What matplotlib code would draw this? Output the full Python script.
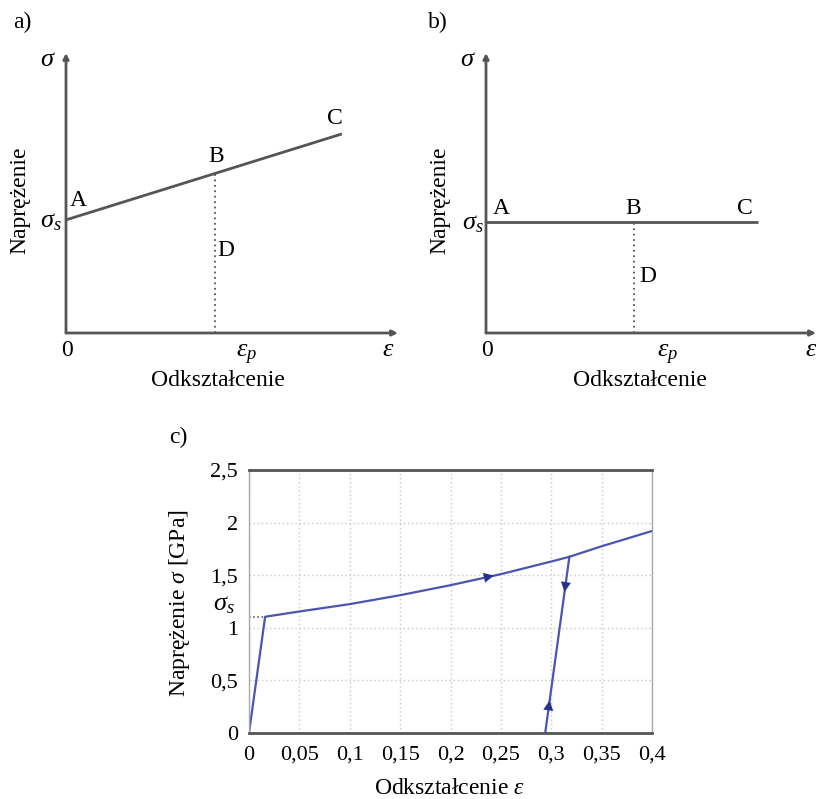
import matplotlib
matplotlib.use('Agg')
import matplotlib.pyplot as plt

plt.rcParams['font.family'] = ['Liberation Serif', 'DejaVu Serif']
plt.rcParams['mathtext.fontset'] = 'custom'
plt.rcParams['mathtext.rm'] = 'Liberation Serif'
plt.rcParams['mathtext.it'] = 'Liberation Serif:italic'

############################################################

# schematic a) - linear hardening (A -> C), B at eps_p
a_line_x = [0.0, 0.831]
a_line_y = [0.404, 0.711]
a_point_B = (0.449, 0.570)

# schematic b) - perfectly plastic (A -> C), B at eps_p
b_line_x = [0.0, 0.824]
b_line_y = [0.396, 0.396]
b_point_B = (0.448, 0.396)

# c) stress-strain curve with unloading / reloading
eps_load = [0, 0.016, 0.05, 0.1, 0.15, 0.2, 0.25, 0.3, 0.318, 0.35, 0.4]
sig_load = [0, 1.105, 1.155, 1.225, 1.31, 1.405, 1.51, 1.63, 1.675, 1.775, 1.92]
eps_unload = [0.318, 0.294]
sig_unload = [1.675, 0.0]
sigma_s = 1.105
eps_s = 0.016
# arrow heads: (x, y, dx, dy) direction
arrows = [(0.24, 1.49, 0.01, 0.021),
          (0.3136, 1.37, -0.0015, -0.1),
          (0.298, 0.28, 0.0015, 0.1)]

x_ticks = [0, 0.05, 0.1, 0.15, 0.2, 0.25, 0.3, 0.35, 0.4]
x_labels = ['0', '0,05', '0,1', '0,15', '0,2', '0,25', '0,3', '0,35', '0,4']
y_ticks = [0, 0.5, 1, 1.5, 2, 2.5]
y_labels = ['0', '0,5', '1', '1,5', '2', '2,5']

############################################################

W, H = 816, 799
fig = plt.figure(figsize=(W / 100, H / 100), dpi=100)
FS = 17
TFS = 16
AX_COL = '#555555'
BLUE = '#4a55b2'
ARROW_COL = '#28318f'


def px_axes(left, top, right, bottom):
    return fig.add_axes([left / W, 1 - bottom / H, (right - left) / W, (bottom - top) / H])


def ftext(x, y, s, size=FS, **kw):
    fig.text(x / W, 1 - y / H, s, fontsize=size, ha='center', va='center', **kw)


def schematic(ax, lx, ly, pB):
    ax.set_xlim(0, 1)
    ax.set_ylim(0, 1)
    ax.axis('off')
    ap = dict(arrowstyle='-|>', color=AX_COL, lw=2, mutation_scale=8, shrinkA=0, shrinkB=0)
    ax.annotate('', xy=(1, 0), xytext=(0, 0), arrowprops=ap)
    ax.annotate('', xy=(0, 1), xytext=(0, 0), arrowprops=ap)
    ax.plot(lx, ly, color=AX_COL, lw=2, solid_capstyle='butt')
    ax.plot([pB[0], pB[0]], [0, pB[1]], color=AX_COL, lw=1.3, linestyle=(0, (1, 2)))


# a)
ax_a = px_axes(66, 53, 398, 333)
schematic(ax_a, a_line_x, a_line_y, a_point_B)
ftext(22, 22, 'a)')
ftext(48, 60, r'$\sigma$', size=19)
ftext(51, 222, r'$\sigma_s$', size=19)
ftext(78, 200, 'A')
ftext(216, 156, 'B')
ftext(335, 118, 'C')
ftext(226, 251, 'D')
ftext(67, 350, '0')
ftext(247, 355, r'$\varepsilon_p$', size=19)
ftext(388, 350, r'$\varepsilon$', size=19)
ftext(218, 381, 'Odkształcenie')
ftext(20, 200, 'Naprężenie', rotation=90)

# b)
ax_b = px_axes(486, 53, 816, 333)
schematic(ax_b, b_line_x, b_line_y, b_point_B)
ftext(438, 22, 'b)')
ftext(468, 60, r'$\sigma$', size=19)
ftext(473, 224, r'$\sigma_s$', size=19)
ftext(501, 208, 'A')
ftext(633, 208, 'B')
ftext(745, 208, 'C')
ftext(648, 277, 'D')
ftext(487, 350, '0')
ftext(668, 355, r'$\varepsilon_p$', size=19)
ftext(811, 350, r'$\varepsilon$', size=19)
ftext(640, 381, 'Odkształcenie')
ftext(440, 200, 'Naprężenie', rotation=90)

# c)
ax = px_axes(249, 470, 652, 733)
ax.plot(eps_load, sig_load, color=BLUE, lw=1.6)
ax.plot(eps_unload, sig_unload, color=BLUE, lw=1.6)
ax.plot([0, eps_s], [sigma_s, sigma_s], color='#666666', lw=1.2, linestyle=(0, (1, 1.5)))
for x, y, dx, dy in arrows:
    ax.annotate('', xy=(x + dx * 0.3, y + dy * 0.3), xytext=(x - dx * 0.3, y - dy * 0.3),
                arrowprops=dict(arrowstyle='-|>', color=ARROW_COL, lw=0, mutation_scale=18,
                                shrinkA=0, shrinkB=0))
ax.set_xlim(0, 0.4)
ax.set_ylim(0, 2.5)
ax.set_xticks(x_ticks)
ax.set_xticklabels(x_labels, fontsize=TFS)
ax.set_yticks(y_ticks)
ax.set_yticklabels(y_labels, fontsize=TFS)
ax.tick_params(axis='x', length=0, pad=9)
ax.tick_params(axis='y', length=0, pad=8)
ax.grid(True, color='#c8c8c8', linestyle=(0, (1, 2)), lw=1)
for s in ['top', 'bottom']:
    ax.spines[s].set_color(AX_COL)
    ax.spines[s].set_linewidth(2)
for s in ['left', 'right']:
    ax.spines[s].set_color('#aaaaaa')
    ax.spines[s].set_linewidth(1)
ax.text(-0.014, 1.22, r'$\sigma_s$', fontsize=19, ha='right', va='center')
ftext(178, 437, 'c)')
ftext(450, 789, r'Odkształcenie $\varepsilon$')
ftext(180, 603, r'Naprężenie $\sigma$ [GPa]', rotation=90)

fig.savefig('out.png', dpi=100)
